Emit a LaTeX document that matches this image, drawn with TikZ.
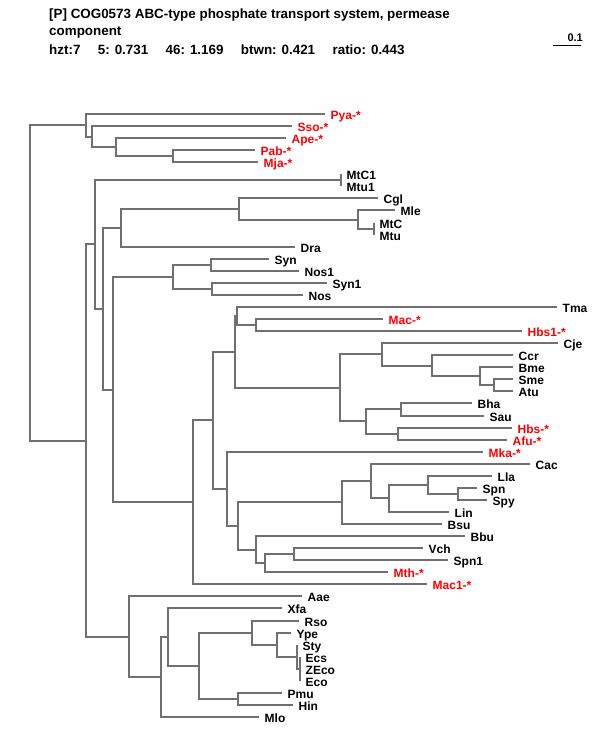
\documentclass[tikz,border=0pt]{standalone}
\usepackage{fontspec}
\setmainfont{Liberation Sans}
\usepackage{tikz}
\usetikzlibrary{positioning}

\definecolor{branchgray}{RGB}{112,112,112}

\begin{document}
\begin{tikzpicture}[
  x=1pt, y=-1pt,
  branch/.style={draw=branchgray, line width=2pt},
  taxon/.style={anchor=base west, inner sep=0pt, xshift=5.5pt, yshift=-5pt, font=\bfseries\fontsize{12}{12}\selectfont},
  archaeon/.style={taxon, text=red},
  header/.style={anchor=base west, inner sep=0pt, font=\bfseries\fontsize{13.4}{15}\selectfont}
]
  \useasboundingbox (0,0) rectangle (600,750);

  % header
  \node [header] (title)  at (49,18.5) {[P] COG0573 ABC-type phosphate transport system, permease};
  \node [header] (title2) at (49,35.5) {component};
  \node [header] (stats)  at (49,54.5) {hzt:7\hspace{1.3em}5: 0.731\hspace{1.3em}46: 1.169\hspace{1.3em}btwn: 0.421\hspace{1.3em}ratio: 0.443};

  % scale bar
  \coordinate (sbl) at (553,45);
  \coordinate (sbr) at (581,45);
  \draw [line width=1pt] (sbl) -- (sbr);
  \node [header, anchor=base east, font=\bfseries\fontsize{11}{11}\selectfont] (sblab) at (583,41) {0.1};

  % leaves
  \coordinate (pya)  at (325,114);
  \coordinate (sso)  at (292,126);
  \coordinate (ape)  at (286,138);
  \coordinate (pab)  at (255,150);
  \coordinate (mja)  at (258,162);
  \coordinate (mtc1) at (341,174);
  \coordinate (mtu1) at (341,186);
  \coordinate (cgl)  at (378,198);
  \coordinate (mle)  at (395,210);
  \coordinate (mtc)  at (374,223);
  \coordinate (mtu)  at (374,235);
  \coordinate (dra)  at (295,247);
  \coordinate (syn)  at (269,259);
  \coordinate (nos1) at (299,271);
  \coordinate (syn1) at (327,283);
  \coordinate (nos)  at (303,295);
  \coordinate (tma)  at (557,307);
  \coordinate (mac)  at (383,319);
  \coordinate (hbs1) at (522,331);
  \coordinate (cje)  at (558,343);
  \coordinate (ccr)  at (513,355);
  \coordinate (bme)  at (513,367);
  \coordinate (sme)  at (513,379);
  \coordinate (atu)  at (513,391);
  \coordinate (bha)  at (472,403);
  \coordinate (sau)  at (484,416);
  \coordinate (hbs)  at (512,428);
  \coordinate (afu)  at (507,440);
  \coordinate (mka)  at (483,452);
  \coordinate (cac)  at (530,464);
  \coordinate (lla)  at (492,476);
  \coordinate (spn)  at (477,488);
  \coordinate (spy)  at (487,500);
  \coordinate (lin)  at (449,512);
  \coordinate (bsu)  at (442,524);
  \coordinate (bbu)  at (465,536);
  \coordinate (vch)  at (423,548);
  \coordinate (spn1) at (448,560);
  \coordinate (mth)  at (388,572);
  \coordinate (mac1) at (427,584);
  \coordinate (aae)  at (302,596);
  \coordinate (xfa)  at (282,608);
  \coordinate (rso)  at (299,621);
  \coordinate (ype)  at (291,633);
  \coordinate (sty)  at (297,645);
  \coordinate (ecs)  at (300,657);
  \coordinate (zeco) at (300,669);
  \coordinate (eco)  at (300,681);
  \coordinate (pmu)  at (282,693);
  \coordinate (hin)  at (293,705);
  \coordinate (mlo)  at (259,717);

  % inner nodes
  \coordinate (n1)   at (173,156);
  \coordinate (n2)   at (116,147);
  \coordinate (n3)   at (92,137);
  \coordinate (n4)   at (86,125);
  \coordinate (n5)   at (341,180);
  \coordinate (n6)   at (374,229);
  \coordinate (n7)   at (358,220);
  \coordinate (n8)   at (239,209);
  \coordinate (n9)   at (121,228);
  \coordinate (n10)  at (211,265);
  \coordinate (n11)  at (212,289);
  \coordinate (n12)  at (173,277);
  \coordinate (n13)  at (256,325);
  \coordinate (n14)  at (237,316);
  \coordinate (n15)  at (494,385);
  \coordinate (n16)  at (480,376);
  \coordinate (n17)  at (432,366);
  \coordinate (n18)  at (382,354);
  \coordinate (n19)  at (401,409);
  \coordinate (n20)  at (398,434);
  \coordinate (n21)  at (366,421);
  \coordinate (n22)  at (340,388);
  \coordinate (n23)  at (235,352);
  \coordinate (n24)  at (458,494);
  \coordinate (n25)  at (428,485);
  \coordinate (n26)  at (389,498);
  \coordinate (n27)  at (371,481);
  \coordinate (n28)  at (342,502);
  \coordinate (n29)  at (294,554);
  \coordinate (n30)  at (265,563);
  \coordinate (n31)  at (256,550);
  \coordinate (n32)  at (238,526);
  \coordinate (n33)  at (227,489);
  \coordinate (n34)  at (213,420);
  \coordinate (n35)  at (193,502);
  \coordinate (n36)  at (113,390);
  \coordinate (n37)  at (103,309);
  \coordinate (n38)  at (95,244);
  \coordinate (n39)  at (300,669);
  \coordinate (n40)  at (297,657);
  \coordinate (n41)  at (277,645);
  \coordinate (n42)  at (252,633);
  \coordinate (n43)  at (238,699);
  \coordinate (n44)  at (199,666);
  \coordinate (n45)  at (168,637);
  \coordinate (n46)  at (161,677);
  \coordinate (n47)  at (129,637);
  \coordinate (n48)  at (86,441);
  \coordinate (root) at (30,283);

  % branches
  \draw [branch] (pab) -| (n1) |- (mja);
  \draw [branch] (ape) -| (n2) |- (n1);
  \draw [branch] (sso) -| (n3) |- (n2);
  \draw [branch] (pya) -| (n4) |- (n3);
  \draw [branch] (mtc1) -| (n5) |- (mtu1);
  \draw [branch] (mtc) -| (n6) |- (mtu);
  \draw [branch] (mle) -| (n7) |- (n6);
  \draw [branch] (cgl) -| (n8) |- (n7);
  \draw [branch] (n8) -| (n9) |- (dra);
  \draw [branch] (syn) -| (n10) |- (nos1);
  \draw [branch] (syn1) -| (n11) |- (nos);
  \draw [branch] (n10) -| (n12) |- (n11);
  \draw [branch] (mac) -| (n13) |- (hbs1);
  \draw [branch] (tma) -| (n14) |- (n13);
  \draw [branch] (sme) -| (n15) |- (atu);
  \draw [branch] (bme) -| (n16) |- (n15);
  \draw [branch] (ccr) -| (n17) |- (n16);
  \draw [branch] (cje) -| (n18) |- (n17);
  \draw [branch] (bha) -| (n19) |- (sau);
  \draw [branch] (hbs) -| (n20) |- (afu);
  \draw [branch] (n19) -| (n21) |- (n20);
  \draw [branch] (n18) -| (n22) |- (n21);
  \draw [branch] (n14) -| (n23) |- (n22);
  \draw [branch] (spn) -| (n24) |- (spy);
  \draw [branch] (lla) -| (n25) |- (n24);
  \draw [branch] (n25) -| (n26) |- (lin);
  \draw [branch] (cac) -| (n27) |- (n26);
  \draw [branch] (n27) -| (n28) |- (bsu);
  \draw [branch] (vch) -| (n29) |- (spn1);
  \draw [branch] (n29) -| (n30) |- (mth);
  \draw [branch] (bbu) -| (n31) |- (n30);
  \draw [branch] (n28) -| (n32) |- (n31);
  \draw [branch] (mka) -| (n33) |- (n32);
  \draw [branch] (n23) -| (n34) |- (n33);
  \draw [branch] (n34) -| (n35) |- (mac1);
  \draw [branch] (n12) -| (n36) |- (n35);
  \draw [branch] (n9) -| (n37) |- (n36);
  \draw [branch] (n5) -| (n38) |- (n37);
  \draw [branch] (ecs) -| (n39) |- (eco);
  \draw [branch] (sty) -| (n40) |- (n39);
  \draw [branch] (ype) -| (n41) |- (n40);
  \draw [branch] (rso) -| (n42) |- (n41);
  \draw [branch] (pmu) -| (n43) |- (hin);
  \draw [branch] (n42) -| (n44) |- (n43);
  \draw [branch] (xfa) -| (n45) |- (n44);
  \draw [branch] (n45) -| (n46) |- (mlo);
  \draw [branch] (aae) -| (n47) |- (n46);
  \draw [branch] (n38) -| (n48) |- (n47);
  \draw [branch] (n4) -| (root) |- (n48);

  % labels
  \node [archaeon] (pyaT)  at (pya)  {Pya-*};
  \node [archaeon] (ssoT)  at (sso)  {Sso-*};
  \node [archaeon] (apeT)  at (ape)  {Ape-*};
  \node [archaeon] (pabT)  at (pab)  {Pab-*};
  \node [archaeon] (mjaT)  at (mja)  {Mja-*};
  \node [taxon]    (mtc1T) at (mtc1) {MtC1};
  \node [taxon]    (mtu1T) at (mtu1) {Mtu1};
  \node [taxon]    (cglT)  at (cgl)  {Cgl};
  \node [taxon]    (mleT)  at (mle)  {Mle};
  \node [taxon]    (mtcT)  at (mtc)  {MtC};
  \node [taxon]    (mtuT)  at (mtu)  {Mtu};
  \node [taxon]    (draT)  at (dra)  {Dra};
  \node [taxon]    (synT)  at (syn)  {Syn};
  \node [taxon]    (nos1T) at (nos1) {Nos1};
  \node [taxon]    (syn1T) at (syn1) {Syn1};
  \node [taxon]    (nosT)  at (nos)  {Nos};
  \node [taxon]    (tmaT)  at (tma)  {Tma};
  \node [archaeon] (macT)  at (mac)  {Mac-*};
  \node [archaeon] (hbs1T) at (hbs1) {Hbs1-*};
  \node [taxon]    (cjeT)  at (cje)  {Cje};
  \node [taxon]    (ccrT)  at (ccr)  {Ccr};
  \node [taxon]    (bmeT)  at (bme)  {Bme};
  \node [taxon]    (smeT)  at (sme)  {Sme};
  \node [taxon]    (atuT)  at (atu)  {Atu};
  \node [taxon]    (bhaT)  at (bha)  {Bha};
  \node [taxon]    (sauT)  at (sau)  {Sau};
  \node [archaeon] (hbsT)  at (hbs)  {Hbs-*};
  \node [archaeon] (afuT)  at (afu)  {Afu-*};
  \node [archaeon] (mkaT)  at (mka)  {Mka-*};
  \node [taxon]    (cacT)  at (cac)  {Cac};
  \node [taxon]    (llaT)  at (lla)  {Lla};
  \node [taxon]    (spnT)  at (spn)  {Spn};
  \node [taxon]    (spyT)  at (spy)  {Spy};
  \node [taxon]    (linT)  at (lin)  {Lin};
  \node [taxon]    (bsuT)  at (bsu)  {Bsu};
  \node [taxon]    (bbuT)  at (bbu)  {Bbu};
  \node [taxon]    (vchT)  at (vch)  {Vch};
  \node [taxon]    (spn1T) at (spn1) {Spn1};
  \node [archaeon] (mthT)  at (mth)  {Mth-*};
  \node [archaeon] (mac1T) at (mac1) {Mac1-*};
  \node [taxon]    (aaeT)  at (aae)  {Aae};
  \node [taxon]    (xfaT)  at (xfa)  {Xfa};
  \node [taxon]    (rsoT)  at (rso)  {Rso};
  \node [taxon]    (ypeT)  at (ype)  {Ype};
  \node [taxon]    (styT)  at (sty)  {Sty};
  \node [taxon]    (ecsT)  at (ecs)  {Ecs};
  \node [taxon]    (zecoT) at (zeco) {ZEco};
  \node [taxon]    (ecoT)  at (eco)  {Eco};
  \node [taxon]    (pmuT)  at (pmu)  {Pmu};
  \node [taxon]    (hinT)  at (hin)  {Hin};
  \node [taxon]    (mloT)  at (mlo)  {Mlo};
\end{tikzpicture}
\end{document}
